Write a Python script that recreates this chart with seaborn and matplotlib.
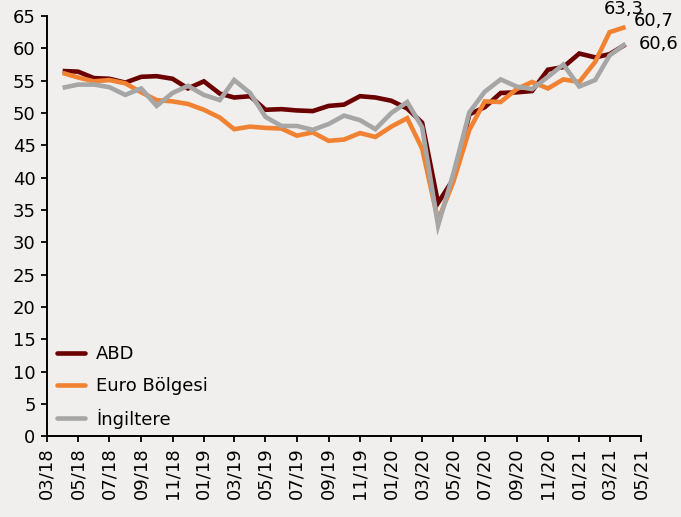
import matplotlib
matplotlib.use("Agg")
import matplotlib.pyplot as plt
import matplotlib.dates as mdates
from matplotlib.lines import Line2D
import seaborn as sns
import pandas as pd
import numpy as np

months = pd.date_range("2018-04-01", "2021-04-01", freq="MS")

abd = [56.5, 56.4, 55.4, 55.3, 54.7, 55.6, 55.7, 55.3, 53.8, 54.9, 53.0, 52.4,
       52.6, 50.5, 50.6, 50.4, 50.3, 51.1, 51.3, 52.6, 52.4, 51.9, 50.7, 48.5,
       36.1, 39.8, 49.8, 50.9, 53.1, 53.2, 53.4, 56.7, 57.1, 59.2, 58.6, 59.1, 60.6]
euro = [56.2, 55.5, 54.9, 55.1, 54.6, 53.2, 52.0, 51.8, 51.4, 50.5, 49.3, 47.5,
        47.9, 47.7, 47.6, 46.5, 47.0, 45.7, 45.9, 46.9, 46.3, 47.9, 49.2, 44.5,
        33.4, 39.4, 47.4, 51.8, 51.7, 53.7, 54.8, 53.8, 55.2, 54.8, 57.9, 62.5, 63.3]
uk = [53.9, 54.4, 54.4, 54.0, 52.8, 53.8, 51.1, 53.1, 54.2, 52.8, 52.0, 55.1,
      53.1, 49.4, 48.0, 48.0, 47.4, 48.3, 49.6, 48.9, 47.5, 50.0, 51.7, 47.8,
      32.6, 40.7, 50.1, 53.3, 55.2, 54.1, 53.7, 55.6, 57.5, 54.1, 55.1, 58.9, 60.7]

series_names = ["ABD", "Euro Bölgesi", "İngiltere"]
colors = ["#6B0000", "#F08232", "#A6A6A6"]
last_labels = ["60,6", "63,3", "60,7"]

df = pd.DataFrame({
    "Tarih": np.concatenate([months] * 3),
    "Değer": abd + euro + uk,
    "Seri": np.repeat(series_names, len(months)),
})

sns.set_style("ticks")
plt.rcParams["font.family"] = ["DejaVu Sans"]
plt.rcParams["text.color"] = "black"
plt.rcParams["xtick.color"] = "black"
plt.rcParams["ytick.color"] = "black"
bg = "#F1EFEE"

fig = plt.figure(figsize=(6.81, 5.17), dpi=100, facecolor=bg)
ax = fig.add_axes([0.0686, 0.156, 0.8725, 0.813])
ax.set_facecolor(bg)

sns.lineplot(data=df, x="Tarih", y="Değer", hue="Seri", hue_order=series_names,
             palette=colors, linewidth=3.3, legend=False, ax=ax)
for ln in ax.get_lines():
    ln.set_solid_capstyle("butt")
    ln.set_solid_joinstyle("miter")

ax.set_xlim(pd.Timestamp("2018-03-01"), pd.Timestamp("2021-05-01"))
ax.set_ylim(0, 65)
ax.set_yticks(range(0, 66, 5))
ax.xaxis.set_major_locator(mdates.MonthLocator(bymonth=[1, 3, 5, 7, 9, 11]))
ax.xaxis.set_major_formatter(mdates.DateFormatter("%m/%y"))
ax.set_xlabel("")
ax.set_ylabel("")
for lab in ax.get_xticklabels():
    lab.set_rotation(90)

sns.despine(ax=ax)
for s in ["left", "bottom"]:
    ax.spines[s].set_linewidth(1.4)
    ax.spines[s].set_color("black")
ax.tick_params(axis="both", length=4, width=1.3, labelsize=13, colors="black",
               labelcolor="black", pad=4)

# end-point labels
last = months[-1]
ax.annotate(last_labels[1], xy=(last, euro[-1]), xytext=(-1.5, 13),
            textcoords="offset points", ha="center", va="center",
            fontsize=13, color="black", annotation_clip=False)
ax.annotate(last_labels[2], xy=(last, uk[-1]), xytext=(6, 16.5),
            textcoords="offset points", ha="left", va="center",
            fontsize=13, color="black", annotation_clip=False)
ax.annotate(last_labels[0], xy=(last, abd[-1]), xytext=(9.5, 0),
            textcoords="offset points", ha="left", va="center",
            fontsize=13, color="black", annotation_clip=False)

handles = [Line2D([0], [0], color=c, lw=3.3, solid_capstyle="round")
           for c in colors]
leg = ax.legend(handles, series_names, loc="lower left", bbox_to_anchor=(0.012, 0.01),
                frameon=False, fontsize=13, handlelength=1.5, handletextpad=0.65,
                labelspacing=0.75, borderpad=0.2, borderaxespad=0)
for t in leg.get_texts():
    t.set_color("black")

fig.savefig("out.png", dpi=100, facecolor=bg)
